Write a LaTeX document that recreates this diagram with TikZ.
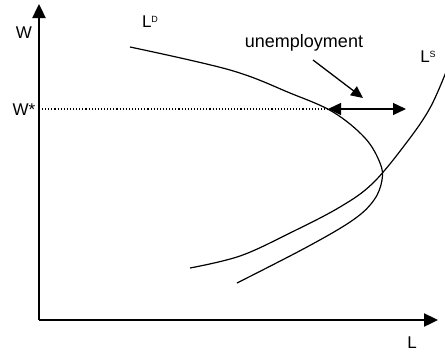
\documentclass[tikz,border=0pt]{standalone}
\usepackage{fontspec}
\setmainfont{Liberation Sans}
\usetikzlibrary{arrows.meta}
\begin{document}
\begin{tikzpicture}[x=1pt,y=-1pt,
  axis/.style={line width=2.4pt,-{Triangle[length=14pt,width=13pt]}},
  curve/.style={line width=1.2pt},
  lbl/.style={inner sep=0pt,font=\fontsize{17}{18}\selectfont},
  arr/.style={line width=1.3pt,-{Triangle[length=12pt,width=11pt]}},
  dbl/.style={line width=1.3pt,{Triangle[length=13pt,width=12pt]}-{Triangle[length=13pt,width=12pt]}}]
\useasboundingbox (0,0) rectangle (445,354);
\coordinate (O) at (39,320);
\coordinate (ytip) at (39,4);
\coordinate (xtip) at (438,320);
\draw[axis] (O) -- (ytip);
\draw[axis] (O) -- (xtip);
\node[lbl] (w) at (24,33) {W};
\node[lbl] (ws) at (24,110) {W*};
\node[lbl] (L) at (412,343) {L};
\node[lbl] (LD) at (150,22) {L\raisebox{0.55ex}{\fontsize{9}{9}\selectfont D}};
\node[lbl] (LS) at (428,57) {L\raisebox{0.55ex}{\fontsize{9}{9}\selectfont S}};
\node[lbl,font=\fontsize{18}{19}\selectfont] (un) at (304,43) {unemployment};
\coordinate (dstart) at (42,109);
\coordinate (dend) at (328,109);
\draw[line width=1.1pt,dotted] (dstart) -- (dend);
\draw[curve] plot[smooth,tension=0.6] coordinates {(130,47) (230,70) (290,93) (333,112) (365,138) (380,163) (382,180) (374,200) (353,220) (307,247) (237,283)};
\draw[curve] plot[smooth,tension=0.6] coordinates {(190,268) (240,256) (290,233) (340,207) (373,183) (407,142) (430,108) (446,72)};
\coordinate (a1) at (313,60);
\coordinate (a2) at (363,98);
\draw[arr] (a1) -- (a2);
\coordinate (u1) at (328,109);
\coordinate (u2) at (406,109);
\draw[dbl] (u1) -- (u2);
\end{tikzpicture}
\end{document}
